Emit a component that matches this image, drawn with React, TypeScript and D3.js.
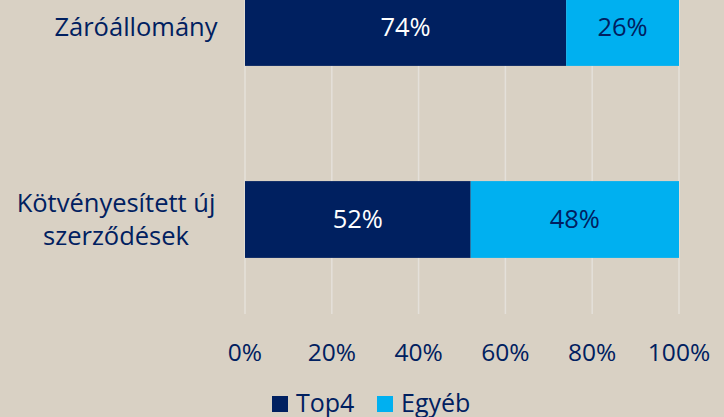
import React from "react";
import { scaleBand, scaleLinear } from "d3";

document.body.style.margin = "0";

const categories = ["Záróállomány", "Kötvényesített új szerződések"];
const categoryLines = [["Záróállomány"], ["Kötvényesített új", "szerződések"]];
const seriesNames = ["Top4", "Egyéb"];
const top4 = [74, 52];
const egyeb = [26, 48];
const ticks = [0, 20, 40, 60, 80, 100];

const colors = ["#002060", "#00B0F0"];
const labelColors = ["#ffffff", "#002060"];
const textColor = "#002060";
const bg = "#D9D1C4";
const font = "'Open Sans', sans-serif";

export default function App() {
    const width = 724;
    const height = 417;
    const x = scaleLinear().domain([0, 100]).range([245, 679]);
    const y = scaleBand()
        .domain(categories)
        .range([-68.5, 315.5])
        .paddingInner(0.6)
        .paddingOuter(0.3);
    const series = [top4, egyeb];

    return (
        <svg width={width} height={height} style={{ display: "block", background: bg }}>
            <rect width={width} height={height} fill={bg} />
            {ticks.map((t) => (
                <line
                    key={"g" + t}
                    x1={x(t)}
                    x2={x(t)}
                    y1={-68}
                    y2={314}
                    stroke="#E4E0DA"
                    strokeWidth={1.5}
                />
            ))}
            {categories.map((c, i) => {
                let start = 0;
                const by = y(c);
                const bh = y.bandwidth();
                return (
                    <g key={c}>
                        {series.map((s, k) => {
                            const x0 = x(start);
                            const x1 = x(start + s[i]);
                            start += s[i];
                            return (
                                <g key={k}>
                                    <rect x={x0} y={by} width={x1 - x0} height={bh} fill={colors[k]} />
                                    <text
                                        x={(x0 + x1) / 2}
                                        y={by + bh / 2}
                                        dy="0.35em"
                                        textAnchor="middle"
                                        fontFamily={font}
                                        fontSize={25.5}
                                        fill={labelColors[k]}
                                    >
                                        {s[i] + "%"}
                                    </text>
                                </g>
                            );
                        })}
                    </g>
                );
            })}
            {categories.map((c, i) => {
                const lines = categoryLines[i];
                const cy = y(c) + y.bandwidth() / 2;
                const lh = 33;
                // block is right aligned, lines centred within it
                const cx = lines.length > 1 ? 116 : 136;
                return (
                    <text
                        key={"l" + c}
                        textAnchor="middle"
                        fontFamily={font}
                        fontSize={25.5}
                        fill={textColor}
                    >
                        {lines.map((ln, j) => (
                            <tspan
                                key={j}
                                x={cx}
                                y={cy + (j - (lines.length - 1) / 2) * lh}
                                dy="0.35em"
                            >
                                {ln}
                            </tspan>
                        ))}
                    </text>
                );
            })}
            {ticks.map((t) => (
                <text
                    key={"t" + t}
                    x={x(t)}
                    y={352}
                    dy="0.35em"
                    textAnchor="middle"
                    fontFamily={font}
                    fontSize={24.5}
                    fill={textColor}
                >
                    {t + "%"}
                </text>
            ))}
            {seriesNames.map((n, k) => {
                const lx = [272, 377][k];
                return (
                    <g key={n}>
                        <rect x={lx} y={396} width={16} height={16} fill={colors[k]} />
                        <text
                            x={lx + 24}
                            y={403}
                            dy="0.35em"
                            fontFamily={font}
                            fontSize={25}
                            fill={textColor}
                        >
                            {n}
                        </text>
                    </g>
                );
            })}
        </svg>
    );
}
